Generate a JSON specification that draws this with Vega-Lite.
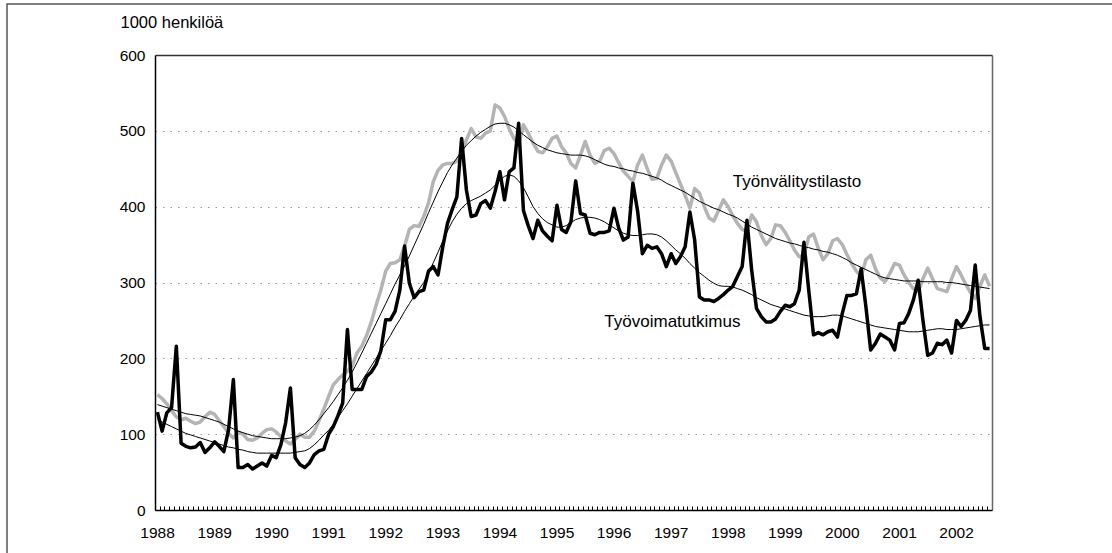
{
"$schema": "https://vega.github.io/schema/vega-lite/v6.json",
"autosize": {"type": "none"},
"padding": {"left": 7, "top": 4, "right": -15, "bottom": -12},
"width": 1120,
"height": 561,
"background": "white",
"config": {"view": {"stroke": "#555", "strokeWidth": 1.5}},
"datasets": {
"sarjat": [
{"kk":"1988-01","tt":129,"ttTrendi":119,"tv":152,"tvTrendi":139},
{"kk":"1988-02","tt":104,"ttTrendi":116,"tv":147,"tvTrendi":137},
{"kk":"1988-03","tt":128,"ttTrendi":113,"tv":140,"tvTrendi":135},
{"kk":"1988-04","tt":135,"ttTrendi":110,"tv":131,"tvTrendi":133},
{"kk":"1988-05","tt":216,"ttTrendi":107,"tv":123,"tvTrendi":131},
{"kk":"1988-06","tt":88,"ttTrendi":104,"tv":119,"tvTrendi":129},
{"kk":"1988-07","tt":84,"ttTrendi":101,"tv":121,"tvTrendi":127},
{"kk":"1988-08","tt":82,"ttTrendi":99,"tv":117,"tvTrendi":126},
{"kk":"1988-09","tt":83,"ttTrendi":97,"tv":114,"tvTrendi":125},
{"kk":"1988-10","tt":89,"ttTrendi":95,"tv":116,"tvTrendi":124},
{"kk":"1988-11","tt":76,"ttTrendi":93,"tv":123,"tvTrendi":122},
{"kk":"1988-12","tt":82,"ttTrendi":91,"tv":129,"tvTrendi":120},
{"kk":"1989-01","tt":90,"ttTrendi":89,"tv":126,"tvTrendi":118},
{"kk":"1989-02","tt":84,"ttTrendi":87,"tv":118,"tvTrendi":116},
{"kk":"1989-03","tt":77,"ttTrendi":85,"tv":110,"tvTrendi":113},
{"kk":"1989-04","tt":106,"ttTrendi":83,"tv":101,"tvTrendi":110},
{"kk":"1989-05","tt":172,"ttTrendi":82,"tv":95,"tvTrendi":107},
{"kk":"1989-06","tt":56,"ttTrendi":80,"tv":103,"tvTrendi":104},
{"kk":"1989-07","tt":56,"ttTrendi":79,"tv":100,"tvTrendi":102},
{"kk":"1989-08","tt":60,"ttTrendi":77,"tv":93,"tvTrendi":100},
{"kk":"1989-09","tt":54,"ttTrendi":76,"tv":92,"tvTrendi":98},
{"kk":"1989-10","tt":58,"ttTrendi":75,"tv":95,"tvTrendi":97},
{"kk":"1989-11","tt":62,"ttTrendi":75,"tv":101,"tvTrendi":96},
{"kk":"1989-12","tt":58,"ttTrendi":75,"tv":106,"tvTrendi":95},
{"kk":"1990-01","tt":72,"ttTrendi":75,"tv":107,"tvTrendi":94},
{"kk":"1990-02","tt":69,"ttTrendi":75,"tv":103,"tvTrendi":94},
{"kk":"1990-03","tt":86,"ttTrendi":75,"tv":97,"tvTrendi":94},
{"kk":"1990-04","tt":115,"ttTrendi":75,"tv":91,"tvTrendi":94},
{"kk":"1990-05","tt":161,"ttTrendi":75,"tv":87,"tvTrendi":95},
{"kk":"1990-06","tt":69,"ttTrendi":76,"tv":93,"tvTrendi":96},
{"kk":"1990-07","tt":60,"ttTrendi":77,"tv":100,"tvTrendi":98},
{"kk":"1990-08","tt":56,"ttTrendi":78,"tv":96,"tvTrendi":101},
{"kk":"1990-09","tt":62,"ttTrendi":81,"tv":96,"tvTrendi":106},
{"kk":"1990-10","tt":73,"ttTrendi":86,"tv":104,"tvTrendi":112},
{"kk":"1990-11","tt":78,"ttTrendi":92,"tv":118,"tvTrendi":119},
{"kk":"1990-12","tt":80,"ttTrendi":99,"tv":133,"tvTrendi":127},
{"kk":"1991-01","tt":100,"ttTrendi":105,"tv":150,"tvTrendi":135},
{"kk":"1991-02","tt":110,"ttTrendi":113,"tv":165,"tvTrendi":143},
{"kk":"1991-03","tt":124,"ttTrendi":122,"tv":172,"tvTrendi":152},
{"kk":"1991-04","tt":141,"ttTrendi":131,"tv":178,"tvTrendi":161},
{"kk":"1991-05","tt":238,"ttTrendi":140,"tv":183,"tvTrendi":171},
{"kk":"1991-06","tt":159,"ttTrendi":150,"tv":190,"tvTrendi":182},
{"kk":"1991-07","tt":159,"ttTrendi":160,"tv":207,"tvTrendi":194},
{"kk":"1991-08","tt":159,"ttTrendi":170,"tv":216,"tvTrendi":207},
{"kk":"1991-09","tt":176,"ttTrendi":180,"tv":230,"tvTrendi":220},
{"kk":"1991-10","tt":182,"ttTrendi":190,"tv":248,"tvTrendi":233},
{"kk":"1991-11","tt":192,"ttTrendi":200,"tv":270,"tvTrendi":246},
{"kk":"1991-12","tt":210,"ttTrendi":210,"tv":290,"tvTrendi":259},
{"kk":"1992-01","tt":251,"ttTrendi":220,"tv":315,"tvTrendi":272},
{"kk":"1992-02","tt":251,"ttTrendi":230,"tv":325,"tvTrendi":285},
{"kk":"1992-03","tt":262,"ttTrendi":241,"tv":326,"tvTrendi":298},
{"kk":"1992-04","tt":290,"ttTrendi":251,"tv":330,"tvTrendi":310},
{"kk":"1992-05","tt":348,"ttTrendi":262,"tv":348,"tvTrendi":322},
{"kk":"1992-06","tt":299,"ttTrendi":272,"tv":370,"tvTrendi":335},
{"kk":"1992-07","tt":280,"ttTrendi":282,"tv":375,"tvTrendi":349},
{"kk":"1992-08","tt":288,"ttTrendi":291,"tv":374,"tvTrendi":363},
{"kk":"1992-09","tt":290,"ttTrendi":300,"tv":387,"tvTrendi":377},
{"kk":"1992-10","tt":315,"ttTrendi":312,"tv":405,"tvTrendi":392},
{"kk":"1992-11","tt":321,"ttTrendi":326,"tv":433,"tvTrendi":406},
{"kk":"1992-12","tt":310,"ttTrendi":340,"tv":448,"tvTrendi":420},
{"kk":"1993-01","tt":348,"ttTrendi":355,"tv":455,"tvTrendi":433},
{"kk":"1993-02","tt":378,"ttTrendi":368,"tv":457,"tvTrendi":445},
{"kk":"1993-03","tt":396,"ttTrendi":380,"tv":457,"tvTrendi":455},
{"kk":"1993-04","tt":413,"ttTrendi":390,"tv":460,"tvTrendi":464},
{"kk":"1993-05","tt":490,"ttTrendi":398,"tv":472,"tvTrendi":473},
{"kk":"1993-06","tt":422,"ttTrendi":404,"tv":488,"tvTrendi":481},
{"kk":"1993-07","tt":387,"ttTrendi":408,"tv":503,"tvTrendi":487},
{"kk":"1993-08","tt":389,"ttTrendi":411,"tv":492,"tvTrendi":493},
{"kk":"1993-09","tt":404,"ttTrendi":414,"tv":490,"tvTrendi":498},
{"kk":"1993-10","tt":408,"ttTrendi":418,"tv":497,"tvTrendi":502},
{"kk":"1993-11","tt":398,"ttTrendi":422,"tv":500,"tvTrendi":506},
{"kk":"1993-12","tt":420,"ttTrendi":428,"tv":534,"tvTrendi":509},
{"kk":"1994-01","tt":446,"ttTrendi":435,"tv":530,"tvTrendi":510},
{"kk":"1994-02","tt":409,"ttTrendi":440,"tv":519,"tvTrendi":510},
{"kk":"1994-03","tt":446,"ttTrendi":442,"tv":503,"tvTrendi":508},
{"kk":"1994-04","tt":451,"ttTrendi":440,"tv":490,"tvTrendi":505},
{"kk":"1994-05","tt":510,"ttTrendi":434,"tv":482,"tvTrendi":500},
{"kk":"1994-06","tt":395,"ttTrendi":425,"tv":508,"tvTrendi":495},
{"kk":"1994-07","tt":375,"ttTrendi":413,"tv":497,"tvTrendi":490},
{"kk":"1994-08","tt":358,"ttTrendi":400,"tv":484,"tvTrendi":485},
{"kk":"1994-09","tt":382,"ttTrendi":391,"tv":473,"tvTrendi":481},
{"kk":"1994-10","tt":368,"ttTrendi":384,"tv":471,"tvTrendi":478},
{"kk":"1994-11","tt":361,"ttTrendi":379,"tv":479,"tvTrendi":475},
{"kk":"1994-12","tt":355,"ttTrendi":376,"tv":490,"tvTrendi":473},
{"kk":"1995-01","tt":402,"ttTrendi":373,"tv":493,"tvTrendi":471},
{"kk":"1995-02","tt":370,"ttTrendi":373,"tv":479,"tvTrendi":470},
{"kk":"1995-03","tt":366,"ttTrendi":375,"tv":471,"tvTrendi":469},
{"kk":"1995-04","tt":380,"ttTrendi":379,"tv":457,"tvTrendi":468},
{"kk":"1995-05","tt":434,"ttTrendi":383,"tv":451,"tvTrendi":468},
{"kk":"1995-06","tt":391,"ttTrendi":385,"tv":468,"tvTrendi":468},
{"kk":"1995-07","tt":389,"ttTrendi":386,"tv":486,"tvTrendi":467},
{"kk":"1995-08","tt":365,"ttTrendi":386,"tv":468,"tvTrendi":465},
{"kk":"1995-09","tt":363,"ttTrendi":385,"tv":457,"tvTrendi":462},
{"kk":"1995-10","tt":366,"ttTrendi":383,"tv":460,"tvTrendi":459},
{"kk":"1995-11","tt":366,"ttTrendi":380,"tv":474,"tvTrendi":456},
{"kk":"1995-12","tt":368,"ttTrendi":376,"tv":477,"tvTrendi":454},
{"kk":"1996-01","tt":398,"ttTrendi":372,"tv":470,"tvTrendi":453},
{"kk":"1996-02","tt":372,"ttTrendi":368,"tv":458,"tvTrendi":451},
{"kk":"1996-03","tt":356,"ttTrendi":365,"tv":447,"tvTrendi":450},
{"kk":"1996-04","tt":360,"ttTrendi":363,"tv":440,"tvTrendi":448},
{"kk":"1996-05","tt":431,"ttTrendi":362,"tv":433,"tvTrendi":447},
{"kk":"1996-06","tt":394,"ttTrendi":362,"tv":455,"tvTrendi":445},
{"kk":"1996-07","tt":338,"ttTrendi":363,"tv":468,"tvTrendi":444},
{"kk":"1996-08","tt":349,"ttTrendi":364,"tv":450,"tvTrendi":442},
{"kk":"1996-09","tt":345,"ttTrendi":364,"tv":436,"tvTrendi":440},
{"kk":"1996-10","tt":347,"ttTrendi":363,"tv":437,"tvTrendi":438},
{"kk":"1996-11","tt":338,"ttTrendi":360,"tv":455,"tvTrendi":435},
{"kk":"1996-12","tt":321,"ttTrendi":355,"tv":468,"tvTrendi":431},
{"kk":"1997-01","tt":338,"ttTrendi":349,"tv":460,"tvTrendi":428},
{"kk":"1997-02","tt":325,"ttTrendi":343,"tv":445,"tvTrendi":425},
{"kk":"1997-03","tt":334,"ttTrendi":338,"tv":430,"tvTrendi":422},
{"kk":"1997-04","tt":347,"ttTrendi":332,"tv":415,"tvTrendi":419},
{"kk":"1997-05","tt":393,"ttTrendi":325,"tv":398,"tvTrendi":415},
{"kk":"1997-06","tt":356,"ttTrendi":319,"tv":424,"tvTrendi":411},
{"kk":"1997-07","tt":281,"ttTrendi":313,"tv":418,"tvTrendi":407},
{"kk":"1997-08","tt":277,"ttTrendi":308,"tv":400,"tvTrendi":404},
{"kk":"1997-09","tt":277,"ttTrendi":303,"tv":385,"tvTrendi":401},
{"kk":"1997-10","tt":275,"ttTrendi":299,"tv":381,"tvTrendi":398},
{"kk":"1997-11","tt":279,"ttTrendi":296,"tv":395,"tvTrendi":396},
{"kk":"1997-12","tt":284,"ttTrendi":295,"tv":409,"tvTrendi":393},
{"kk":"1998-01","tt":290,"ttTrendi":295,"tv":400,"tvTrendi":390},
{"kk":"1998-02","tt":295,"ttTrendi":294,"tv":388,"tvTrendi":388},
{"kk":"1998-03","tt":308,"ttTrendi":292,"tv":378,"tvTrendi":385},
{"kk":"1998-04","tt":321,"ttTrendi":290,"tv":370,"tvTrendi":381},
{"kk":"1998-05","tt":382,"ttTrendi":287,"tv":367,"tvTrendi":377},
{"kk":"1998-06","tt":316,"ttTrendi":284,"tv":389,"tvTrendi":373},
{"kk":"1998-07","tt":266,"ttTrendi":280,"tv":380,"tvTrendi":370},
{"kk":"1998-08","tt":255,"ttTrendi":277,"tv":362,"tvTrendi":367},
{"kk":"1998-09","tt":248,"ttTrendi":274,"tv":350,"tvTrendi":364},
{"kk":"1998-10","tt":248,"ttTrendi":271,"tv":358,"tvTrendi":361},
{"kk":"1998-11","tt":252,"ttTrendi":269,"tv":376,"tvTrendi":358},
{"kk":"1998-12","tt":262,"ttTrendi":267,"tv":375,"tvTrendi":356},
{"kk":"1999-01","tt":270,"ttTrendi":265,"tv":366,"tvTrendi":354},
{"kk":"1999-02","tt":268,"ttTrendi":263,"tv":355,"tvTrendi":352},
{"kk":"1999-03","tt":272,"ttTrendi":261,"tv":343,"tvTrendi":351},
{"kk":"1999-04","tt":290,"ttTrendi":259,"tv":334,"tvTrendi":349},
{"kk":"1999-05","tt":353,"ttTrendi":257,"tv":336,"tvTrendi":347},
{"kk":"1999-06","tt":290,"ttTrendi":256,"tv":360,"tvTrendi":346},
{"kk":"1999-07","tt":231,"ttTrendi":255,"tv":364,"tvTrendi":344},
{"kk":"1999-08","tt":234,"ttTrendi":255,"tv":345,"tvTrendi":343},
{"kk":"1999-09","tt":231,"ttTrendi":255,"tv":330,"tvTrendi":341},
{"kk":"1999-10","tt":235,"ttTrendi":256,"tv":338,"tvTrendi":340},
{"kk":"1999-11","tt":237,"ttTrendi":257,"tv":355,"tvTrendi":338},
{"kk":"1999-12","tt":228,"ttTrendi":257,"tv":358,"tvTrendi":336},
{"kk":"2000-01","tt":259,"ttTrendi":256,"tv":350,"tvTrendi":333},
{"kk":"2000-02","tt":283,"ttTrendi":254,"tv":337,"tvTrendi":330},
{"kk":"2000-03","tt":283,"ttTrendi":252,"tv":325,"tvTrendi":326},
{"kk":"2000-04","tt":285,"ttTrendi":250,"tv":315,"tvTrendi":323},
{"kk":"2000-05","tt":318,"ttTrendi":248,"tv":308,"tvTrendi":320},
{"kk":"2000-06","tt":268,"ttTrendi":246,"tv":330,"tvTrendi":317},
{"kk":"2000-07","tt":211,"ttTrendi":244,"tv":336,"tvTrendi":314},
{"kk":"2000-08","tt":220,"ttTrendi":242,"tv":318,"tvTrendi":311},
{"kk":"2000-09","tt":232,"ttTrendi":241,"tv":306,"tvTrendi":308},
{"kk":"2000-10","tt":228,"ttTrendi":240,"tv":301,"tvTrendi":306},
{"kk":"2000-11","tt":224,"ttTrendi":239,"tv":312,"tvTrendi":305},
{"kk":"2000-12","tt":211,"ttTrendi":238,"tv":325,"tvTrendi":304},
{"kk":"2001-01","tt":246,"ttTrendi":237,"tv":323,"tvTrendi":303},
{"kk":"2001-02","tt":247,"ttTrendi":236,"tv":310,"tvTrendi":302},
{"kk":"2001-03","tt":259,"ttTrendi":235,"tv":300,"tvTrendi":302},
{"kk":"2001-04","tt":277,"ttTrendi":235,"tv":292,"tvTrendi":302},
{"kk":"2001-05","tt":303,"ttTrendi":235,"tv":288,"tvTrendi":302},
{"kk":"2001-06","tt":250,"ttTrendi":236,"tv":305,"tvTrendi":301},
{"kk":"2001-07","tt":204,"ttTrendi":237,"tv":319,"tvTrendi":301},
{"kk":"2001-08","tt":207,"ttTrendi":238,"tv":305,"tvTrendi":301},
{"kk":"2001-09","tt":220,"ttTrendi":239,"tv":292,"tvTrendi":301},
{"kk":"2001-10","tt":218,"ttTrendi":239,"tv":290,"tvTrendi":301},
{"kk":"2001-11","tt":224,"ttTrendi":238,"tv":288,"tvTrendi":300},
{"kk":"2001-12","tt":207,"ttTrendi":238,"tv":305,"tvTrendi":300},
{"kk":"2002-01","tt":250,"ttTrendi":238,"tv":321,"tvTrendi":299},
{"kk":"2002-02","tt":242,"ttTrendi":239,"tv":310,"tvTrendi":298},
{"kk":"2002-03","tt":250,"ttTrendi":240,"tv":298,"tvTrendi":297},
{"kk":"2002-04","tt":263,"ttTrendi":241,"tv":287,"tvTrendi":296},
{"kk":"2002-05","tt":323,"ttTrendi":242,"tv":279,"tvTrendi":295},
{"kk":"2002-06","tt":255,"ttTrendi":243,"tv":295,"tvTrendi":294},
{"kk":"2002-07","tt":213,"ttTrendi":244,"tv":310,"tvTrendi":293},
{"kk":"2002-08","tt":213,"ttTrendi":244,"tv":295,"tvTrendi":292}
],
"nimet": [
{"kk":"1998-02","arvo":432,"teksti":"Työnvälitystilasto"},
{"kk":"1995-11","arvo":248,"teksti":"Työvoimatutkimus"}
]
},
"resolve": {"axis": {"x": "independent", "y": "independent"}},
"layer": [
{
"data": {"name": "sarjat"},
"mark": {"type": "line", "color": "#b4b4b4", "strokeWidth": 3.5, "strokeJoin": "round"},
"encoding": {
"x": {"field": "kk", "type": "temporal", "timeUnit": "utcyearmonth", "bandPosition": 0.5,
"scale": {"type": "utc", "domain": [{"year": 1988, "month": 1, "date": 1, "utc": true}, {"year": 2002, "month": 9, "date": 1, "utc": true}], "range": [148, 985]},
"axis": {"orient": "bottom", "offset": -55, "tickCount": {"interval": "month", "step": 1},
"labelExpr": "utcmonth(datum.value) == 0 ? utcFormat(datum.value, '%Y') : ''",
"labelOverlap": false, "labelFlush": false, "labelBound": false,
"tickSize": -4, "tickColor": "#000", "tickWidth": 1,
"domainColor": "#000", "domainWidth": 1.5,
"labelFont": "Liberation Sans", "labelFontSize": 15.5, "labelColor": "#000", "labelPadding": 19, "labelOffset": 2,
"grid": false, "title": null}},
"y": {"field": "tv", "type": "quantitative",
"scale": {"domain": [0, 600], "range": [506, 51], "nice": false, "zero": false},
"axis": {"orient": "left", "offset": -148, "values": [0, 100, 200, 300, 400, 500, 600],
"ticks": false, "domainColor": "#000", "domainWidth": 1.5,
"labelFont": "Liberation Sans", "labelFontSize": 15.5, "labelColor": "#000", "labelPadding": 10,
"grid": true, "gridColor": "#999", "gridDash": [1.5, 6], "gridWidth": 1,
"gridOpacity": {"condition": {"test": "datum.value == 0 || datum.value == 600", "value": 0}, "value": 1},
"title": "1000 henkilöä", "titleAngle": 0, "titleAlign": "left", "titleBaseline": "middle",
"titleX": -35, "titleY": 18, "titleFont": "Liberation Sans", "titleFontSize": 16.5, "titleFontWeight": "normal", "titleColor": "#000"}}
}
},
{
"data": {"name": "sarjat"},
"mark": {"type": "line", "color": "#000", "strokeWidth": 3.5, "strokeJoin": "round"},
"encoding": {
"x": {"field": "kk", "type": "temporal", "timeUnit": "utcyearmonth", "bandPosition": 0.5, "axis": null},
"y": {"field": "tt", "type": "quantitative", "axis": null}
}
},
{
"data": {"name": "sarjat"},
"mark": {"type": "line", "color": "#000", "strokeWidth": 1},
"encoding": {
"x": {"field": "kk", "type": "temporal", "timeUnit": "utcyearmonth", "bandPosition": 0.5, "axis": null},
"y": {"field": "ttTrendi", "type": "quantitative", "axis": null}
}
},
{
"data": {"name": "sarjat"},
"mark": {"type": "line", "color": "#000", "strokeWidth": 1},
"encoding": {
"x": {"field": "kk", "type": "temporal", "timeUnit": "utcyearmonth", "bandPosition": 0.5, "axis": null},
"y": {"field": "tvTrendi", "type": "quantitative", "axis": null}
}
},
{
"data": {"name": "nimet"},
"mark": {"type": "text", "align": "left", "baseline": "middle", "font": "Liberation Sans", "fontSize": 17, "color": "#000"},
"encoding": {
"x": {"field": "kk", "type": "temporal", "timeUnit": "utcyearmonth", "bandPosition": 0.5,
"axis": {"orient": "top", "offset": -51, "labels": false, "ticks": false, "grid": false, "domainColor": "#333", "domainWidth": 1.5, "title": null}},
"y": {"field": "arvo", "type": "quantitative",
"axis": {"orient": "right", "offset": -135, "labels": false, "ticks": false, "grid": false, "domainColor": "#666", "domainWidth": 1.5, "title": null}},
"text": {"field": "teksti"}
}
}
]
}
